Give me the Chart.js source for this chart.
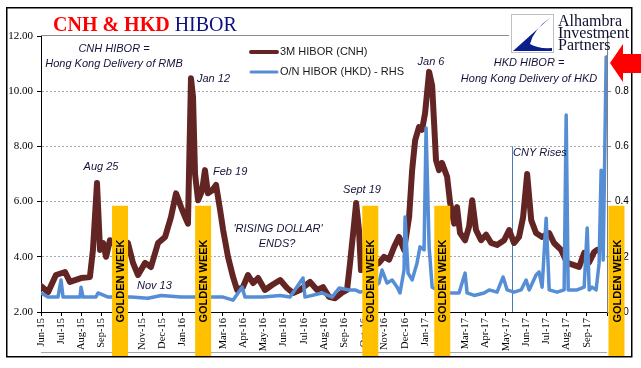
<!DOCTYPE html>
<html>
<head>
<meta charset="utf-8">
<title>CNH &amp; HKD HIBOR</title>
<script src="https://cdn.jsdelivr.net/npm/chart.js@4.4.1/dist/chart.umd.min.js"></script>
<style>
  html, body { margin: 0; padding: 0; background: #fff; }
  #wrap { width: 641px; height: 368px; }
</style>
</head>
<body>
<div id="wrap"><canvas id="hiborChart" width="641" height="368"></canvas></div>
<script>
// x values are months since 1 Jun 2015
const monthLabels = ['Jun-15','Jul-15','Aug-15','Sep-15','Oct-15','Nov-15','Dec-15','Jan-16','Feb-16','Mar-16',
  'Apr-16','May-16','Jun-16','Jul-16','Aug-16','Sep-16','Oct-16','Nov-16','Dec-16','Jan-17','Feb-17','Mar-17',
  'Apr-17','May-17','Jun-17','Jul-17','Aug-17','Sep-17'];

const leftTicks = [2, 4, 6, 8, 10, 12];
const rightTicks = [0, 0.2, 0.4, 0.6, 0.8, 1];

// 3M HIBOR (CNH), left axis
const cnhMonths = [0.00,0.35,0.74,1.19,1.43,1.98,2.42,2.57,2.77,2.92,
  3.07,3.22,3.41,3.86,4.30,4.55,4.80,5.15,5.44,5.79,
  6.14,6.43,6.68,6.93,7.13,7.27,7.42,7.52,7.62,7.77,
  7.97,8.11,8.26,8.46,8.66,8.86,9.01,9.25,9.50,9.70,
  9.99,10.24,10.49,10.74,11.08,11.43,11.83,12.17,12.47,12.82,
  13.31,13.66,13.95,14.25,14.55,14.89,15.14,15.29,15.49,15.59,
  15.73,15.83,16.28,16.72,16.97,17.22,17.47,17.71,17.96,18.21,
  18.36,18.51,18.70,18.85,19.00,19.20,19.35,19.45,19.54,19.69,
  19.84,20.09,20.24,20.44,20.58,20.73,20.98,21.18,21.33,21.52,
  21.77,22.02,22.27,22.56,22.91,23.16,23.40,23.65,23.85,24.05,
  24.25,24.49,24.79,25.14,25.38,25.73,26.03,26.37,26.62,26.87,
  27.12,27.36,27.51];
const cnhRates = [2.94,2.72,3.34,3.45,3.09,3.23,3.27,4.25,6.67,4.25,
  4.50,4.00,4.60,4.30,4.50,3.78,3.34,3.78,3.63,4.50,
  4.72,5.44,6.30,5.80,5.44,5.20,10.47,9.80,7.00,6.05,
  6.40,7.14,6.30,6.40,6.60,5.70,4.97,4.00,3.27,2.80,
  2.90,3.34,3.05,3.23,2.80,2.98,3.16,2.87,2.69,2.80,
  3.09,2.80,2.90,2.55,2.50,2.70,2.80,3.78,5.20,5.95,
  4.97,3.52,3.60,3.78,4.00,3.90,4.36,4.72,4.25,5.44,
  7.14,8.23,8.70,8.60,9.20,10.70,10.20,8.80,7.50,7.14,
  7.40,6.90,5.95,5.20,5.80,4.86,4.60,5.10,6.05,4.97,
  4.60,4.80,4.50,4.43,4.60,4.97,4.50,4.72,5.44,7.00,
  5.33,4.86,4.72,4.86,4.50,4.25,3.78,3.70,3.63,4.14,
  3.80,4.17,4.25];

// O/N HIBOR (HKD), right axis
const hkdMonths = [0.00,0.35,0.84,0.99,1.09,1.48,1.93,1.98,2.08,2.72,
  2.82,3.32,3.91,4.45,5.29,5.94,6.93,9.01,9.50,9.95,
  10.09,10.98,11.83,12.32,12.96,13.06,13.90,14.40,14.75,15.24,
  15.54,15.78,16.28,16.72,16.87,17.12,17.37,17.62,17.76,17.96,
  18.01,18.16,18.36,18.60,18.75,18.95,19.05,19.20,19.35,19.84,
  20.34,20.68,20.98,21.08,21.43,21.92,22.17,22.56,22.86,23.06,
  23.40,23.75,24.00,24.15,24.49,24.64,24.79,24.99,25.14,25.53,
  25.88,25.98,26.08,26.52,26.87,27.02,27.12,27.26,27.46,27.61,
  27.71,27.81,27.96];
const hkdRates = [0.069,0.054,0.054,0.116,0.054,0.054,0.054,0.09,0.054,0.054,
  0.069,0.054,0.054,0.054,0.05,0.06,0.054,0.054,0.043,0.09,
  0.054,0.054,0.06,0.054,0.123,0.054,0.069,0.054,0.087,0.08,
  0.08,0.072,0.08,0.105,0.152,0.105,0.116,0.09,0.069,0.152,
  0.344,0.141,0.116,0.177,0.236,0.225,0.667,0.236,0.09,0.07,
  0.069,0.069,0.141,0.069,0.06,0.069,0.08,0.072,0.127,0.08,
  0.072,0.08,0.116,0.08,0.134,0.145,0.09,0.34,0.08,0.072,
  0.08,0.714,0.08,0.08,0.09,0.304,0.08,0.09,0.08,0.177,
  0.514,0.188,0.924];

// golden week markers (centre, in months) and their height on the left axis
const goldenWeeks = [3.91, 8.02, 16.29, 19.85, 28.47];
const goldenTop = 5.85;
// "CNY Rises" marker
const cnyRises = 23.29;
const cnyTop = 8;

const BROWN = '#632523';
const BLUE = '#558ed5';
const NOTE = '#14143a';

function toPoints(xs, ys) {
  return xs.map((x, i) => ({ x: x, y: ys[i] }));
}

function note(c, str, x, y, align) {
  c.font = 'italic 11px "Liberation Sans", Arial, sans-serif';
  c.fillStyle = NOTE;
  c.textAlign = align || 'center';
  c.textBaseline = 'middle';
  c.fillText(str, x, y);
}

const paperPlugin = {
  id: 'paper',
  beforeDraw(chart) {
    const c = chart.ctx;
    c.save();
    c.fillStyle = '#fff';
    c.fillRect(0, 0, chart.width, chart.height);
    c.restore();
  },
  beforeDatasetsDraw(chart) {
    const c = chart.ctx;
    const a = chart.chartArea;
    const x = chart.scales.x;
    const yl = chart.scales.yLeft;
    c.save();
    // top frame line and bottom frame line
    c.strokeStyle = '#8c8c8c';
    c.lineWidth = 1;
    c.beginPath();
    c.moveTo(a.left, Math.round(yl.getPixelForValue(12)) - 0.5);
    c.lineTo(509, Math.round(yl.getPixelForValue(12)) - 0.5);
    c.stroke();
    c.strokeStyle = '#a6a6a6';
    c.beginPath();
    c.moveTo(a.left, 352.5);
    c.lineTo(a.right, 352.5);
    c.stroke();
    // CNY rises line
    const cx = Math.round(x.getPixelForValue(cnyRises)) + 0.5;
    c.strokeStyle = '#4a7ab8';
    c.beginPath();
    c.moveTo(cx, yl.getPixelForValue(cnyTop));
    c.lineTo(cx, a.bottom);
    c.stroke();
    c.restore();
  },
  afterDraw(chart) {
    const c = chart.ctx;
    const x = chart.scales.x;
    const yl = chart.scales.yLeft;
    c.save();

    // golden week bars
    const top = yl.getPixelForValue(goldenTop);
    goldenWeeks.forEach(m => {
      const px = x.getPixelForValue(m);
      c.fillStyle = '#ffc000';
      c.fillRect(px - 8, top, 16, 356 - top);
      c.save();
      c.translate(px + 1, 281);
      c.rotate(-Math.PI / 2);
      c.font = 'bold 11px "Liberation Sans", Arial, sans-serif';
      c.fillStyle = '#000';
      c.textAlign = 'center';
      c.textBaseline = 'middle';
      c.fillText('GOLDEN WEEK', 0, 0);
      c.restore();
    });

    // annotations
    note(c, 'CNH HIBOR =', 114, 49);
    note(c, 'Hong Kong Delivery of RMB', 114, 64);
    note(c, 'Aug 25', 101, 167);
    note(c, 'Jan 12', 197, 79, 'left');
    note(c, 'Feb 19', 213, 172, 'left');
    note(c, "'RISING DOLLAR'", 278, 229);
    note(c, 'ENDS?', 277, 244);
    note(c, 'Nov 13', 137, 286, 'left');
    note(c, 'Sept 19', 362, 190);
    note(c, 'Jan 6', 431, 62);
    note(c, 'HKD HIBOR =', 529, 63);
    note(c, 'Hong Kong Delivery of HKD', 529, 79);
    note(c, 'CNY Rises', 513, 153, 'left');

    // legend
    c.lineCap = 'round';
    c.strokeStyle = BROWN;
    c.lineWidth = 4;
    c.beginPath(); c.moveTo(251, 52); c.lineTo(277, 52); c.stroke();
    c.strokeStyle = BLUE;
    c.lineWidth = 3;
    c.beginPath(); c.moveTo(251, 72); c.lineTo(277, 72); c.stroke();
    c.font = '11px "Liberation Sans", Arial, sans-serif';
    c.fillStyle = '#1a1a1a';
    c.textAlign = 'left';
    c.textBaseline = 'middle';
    c.fillText('3M HIBOR (CNH)', 280, 52);
    c.fillText('O/N HIBOR (HKD) - RHS', 280, 72);

    // title
    c.textBaseline = 'alphabetic';
    c.font = 'bold 20px "Liberation Serif", "Times New Roman", serif';
    c.fillStyle = '#ff0000';
    c.fillText('CNH & HKD', 53, 31);
    const w = c.measureText('CNH & HKD ').width;
    c.font = '20px "Liberation Serif", "Times New Roman", serif';
    c.fillStyle = '#0d1080';
    c.fillText('HIBOR', 53 + w, 31);

    // logo
    c.fillStyle = '#fff';
    c.fillRect(511, 14, 43, 39);
    c.strokeStyle = '#c0c0c0';
    c.lineWidth = 1;
    c.strokeRect(511.5, 14.5, 42, 38);
    c.fillStyle = '#0b1e8c';
    c.beginPath();
    c.moveTo(513, 51);
    c.lineTo(551, 17);
    c.quadraticCurveTo(533, 30, 530, 44);
    c.quadraticCurveTo(538, 49, 552, 48);
    c.lineTo(552, 51);
    c.closePath();
    c.fill();
    c.font = '16px "Liberation Serif", "Times New Roman", serif';
    c.fillStyle = '#10102e';
    c.fillText('Alhambra', 558, 26);
    c.fillText('Investment', 558, 38);
    c.fillText('Partners', 558, 50);

    // outer frame
    c.strokeStyle = '#000';
    c.lineWidth = 1.5;
    c.strokeRect(6.75, 7.75, 625, 349);

    // red arrow
    c.fillStyle = '#ff0000';
    c.beginPath();
    c.moveTo(610, 63);
    c.lineTo(623, 44);
    c.lineTo(623, 54);
    c.lineTo(641, 54);
    c.lineTo(641, 73);
    c.lineTo(623, 73);
    c.lineTo(623, 82);
    c.closePath();
    c.fill();

    c.restore();
  }
};

Chart.defaults.font.family = '"Liberation Sans", Arial, sans-serif';
Chart.defaults.color = '#000';

const ctx = document.getElementById('hiborChart').getContext('2d');
new Chart(ctx, {
  type: 'line',
  data: {
    datasets: [
      {
        label: 'O/N HIBOR (HKD) - RHS',
        data: toPoints(hkdMonths, hkdRates),
        yAxisID: 'yRight',
        borderColor: BLUE,
        borderWidth: 3.5,
        order: 0
      },
      {
        label: '3M HIBOR (CNH)',
        data: toPoints(cnhMonths, cnhRates),
        yAxisID: 'yLeft',
        borderColor: BROWN,
        borderWidth: 6,
        order: 1
      }
    ]
  },
  options: {
    responsive: false,
    animation: false,
    devicePixelRatio: 1,
    layout: { padding: { top: 36, left: 0, right: 0, bottom: 0 } },
    elements: {
      point: { radius: 0 },
      line: { tension: 0, borderJoinStyle: 'round', borderCapStyle: 'round', fill: false }
    },
    plugins: { legend: { display: false }, tooltip: { enabled: false } },
    scales: {
      x: {
        type: 'linear',
        min: 0,
        max: 28,
        afterFit: s => { s.height = 56; },
        ticks: {
          stepSize: 1,
          autoSkip: false,
          minRotation: 90,
          maxRotation: 90,
          padding: 2,
          font: { family: '"Liberation Serif", "Times New Roman", serif', size: 10.5 },
          callback: v => monthLabels[v] || ''
        },
        grid: { drawOnChartArea: false, tickLength: 4, tickColor: '#000' },
        border: { color: '#000', width: 1 }
      },
      yLeft: {
        position: 'left',
        min: leftTicks[0],
        max: leftTicks[leftTicks.length - 1],
        afterFit: s => { s.width = 41; },
        afterBuildTicks: s => { s.ticks = leftTicks.map(v => ({ value: v })); },
        ticks: {
          padding: 4,
          font: { family: '"Liberation Serif", "Times New Roman", serif', size: 11 },
          callback: v => v.toFixed(2)
        },
        grid: {
          color: c => (c.tick && c.tick.value > 2 && c.tick.value < 12) ? '#a6a6a6' : 'rgba(0,0,0,0)',
          tickColor: '#000',
          tickLength: 4
        },
        border: { color: '#000', width: 1, dash: [2, 2] }
      },
      yRight: {
        position: 'right',
        min: rightTicks[0],
        max: rightTicks[rightTicks.length - 1],
        afterFit: s => { s.width = 34; },
        afterBuildTicks: s => { s.ticks = rightTicks.map(v => ({ value: v })); },
        ticks: {
          padding: 4,
          font: { size: 10 },
          callback: v => (v > 0.99 ? '' : v.toFixed(1))
        },
        grid: { drawOnChartArea: false, tickColor: '#808080', tickLength: 4 },
        border: { color: '#808080', width: 1 }
      }
    }
  },
  plugins: [paperPlugin]
});
</script>
</body>
</html>
